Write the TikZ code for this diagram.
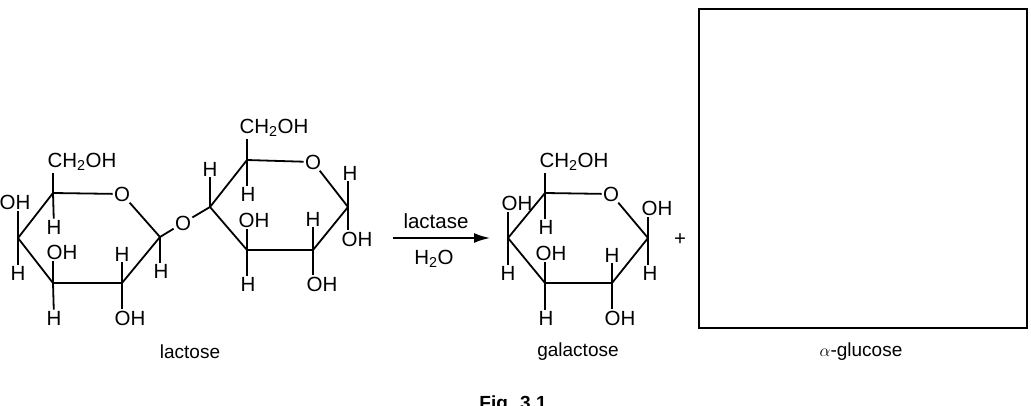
\documentclass[tikz,border=0pt]{standalone}
\usepackage{fontspec}
\setmainfont{Liberation Sans}
\usetikzlibrary{arrows.meta,positioning}

\begin{document}
\begin{tikzpicture}[
        x=1pt, y=-1pt,
        every node/.style={inner sep=1pt, font=\fontsize{20.5}{23}\selectfont},
        every path/.style={line width=1.8pt},
        atom/.style={inner sep=0.5pt},
        caption/.style={font=\fontsize{19}{22}\selectfont}
    ]
    \useasboundingbox (0,0) rectangle (1031,405);

    % Lactose, first ring
    \coordinate (a5) at (53,193);
    \coordinate (a1) at (160,237);
    \coordinate (a2) at (122,283);
    \coordinate (a3) at (53,283);
    \coordinate (a4) at (18,238);
    \node[atom] (aO) at (122,194) {O};
    \node (aCH) at (82,162) {CH\textsubscript{2}OH};
    \node[atom] (a5H) at (54,227) {H};
    \node[atom] (a4OH) at (15,202) {OH};
    \node[atom] (a4H) at (18,273) {H};
    \node[atom] (a3OH) at (62,252) {OH};
    \node[atom] (a3H) at (54,318) {H};
    \node[atom] (a2H) at (122,254) {H};
    \node[atom] (a2OH) at (130,318) {OH};
    \node[atom] (a1H) at (161,271) {H};
    \node[atom] (link) at (183,223) {O};

    % Lactose, second ring
    \coordinate (b4) at (210,207);
    \coordinate (b5) at (247,160);
    \coordinate (b1) at (348,207);
    \coordinate (b2) at (313,250);
    \coordinate (b3) at (247,250);
    \node[atom] (bO) at (313,162) {O};
    \node (bCH) at (274,128) {CH\textsubscript{2}OH};
    \node[atom] (b4H) at (210,169) {H};
    \node[atom] (b5H) at (248,194) {H};
    \node[atom] (b1H) at (350,173) {H};
    \node[atom] (b1OH) at (357,239) {OH};
    \node[atom] (b2H) at (313,219) {H};
    \node[atom] (b2OH) at (322,284) {OH};
    \node[atom] (b3OH) at (254,220) {OH};
    \node[atom] (b3H) at (248,284) {H};

    % Galactose
    \coordinate (g5) at (545,193);
    \coordinate (g1) at (648,238);
    \coordinate (g2) at (612,283);
    \coordinate (g3) at (545,283);
    \coordinate (g4) at (508,238);
    \node[atom] (gO) at (611,194) {O};
    \node (gCH) at (574,162) {CH\textsubscript{2}OH};
    \node[atom] (g5H) at (546,227) {H};
    \node[atom] (g4OH) at (517,203) {OH};
    \node[atom] (g4H) at (508,273) {H};
    \node[atom] (g3OH) at (551,253) {OH};
    \node[atom] (g3H) at (546,318) {H};
    \node[atom] (g2H) at (612,255) {H};
    \node[atom] (g2OH) at (620,318) {OH};
    \node[atom] (g1OH) at (657,208) {OH};
    \node[atom] (g1H) at (650,273) {H};

    % Rings
    \draw (aO) -- (a5) -- (a4) -- (a3) -- (a2) -- (a1) -- (aO);
    \draw (bO) -- (b5) -- (b4) -- (b3) -- (b2) -- (b1) -- (bO);
    \draw (gO) -- (g5) -- (g4) -- (g3) -- (g2) -- (g1) -- (gO);
    \draw (a1) -- (link) -- (b4);

    % Side groups
    \draw (a5) -- (a5 |- aCH.south);
    \draw (a5) -- (a5H);
    \draw (a4) -- (a4 |- a4OH.south);
    \draw (a4) -- (a4H);
    \draw (a3) -- (a3 |- a3OH.south);
    \draw (a3) -- (a3H);
    \draw (a2) -- (a2H);
    \draw (a2) -- (a2 |- a2OH.north);
    \draw (a1) -- (a1 |- a1H.north);
    \draw (b5) -- (b5 |- bCH.south);
    \draw (b5) -- (b5 |- b5H.north);
    \draw (b4) -- (b4H);
    \draw (b1) -- (b1 |- b1H.south);
    \draw (b1) -- (b1 |- b1OH.north);
    \draw (b2) -- (b2H);
    \draw (b2) -- (b2 |- b2OH.north);
    \draw (b3) -- (b3 |- b3OH.south);
    \draw (b3) -- (b3 |- b3H.north);
    \draw (g5) -- (g5 |- gCH.south);
    \draw (g5) -- (g5 |- g5H.north);
    \draw (g4) -- (g4 |- g4OH.south);
    \draw (g4) -- (g4H);
    \draw (g3) -- (g3 |- g3OH.south);
    \draw (g3) -- (g3 |- g3H.north);
    \draw (g2) -- (g2H);
    \draw (g2) -- (g2 |- g2OH.north);
    \draw (g1) -- (g1 |- g1OH.south);
    \draw (g1) -- (g1 |- g1H.north);

    % Reaction arrow
    \coordinate (arrS) at (393,238);
    \coordinate (arrE) at (490,238);
    \draw[-{Latex[length=16pt,width=10pt]}] (arrS) -- (arrE);
    \node (enz) at (436,221) {lactase};
    \node (water) at (434,259) {H\textsubscript{2}O};
    \node (plus) at (680,240) {+};

    % Answer box
    \node[draw, line width=1.6pt, minimum width=328pt, minimum height=319pt, inner sep=0pt] (box) at (863,168.5) {};

    % Captions
    \node[caption] (lacLbl) at (190,352) {lactose};
    \node[caption] (galLbl) at (578,352) {galactose};
    \node[caption] (gluLbl) at (861,352) {$\alpha$-glucose};
    \node[caption, font=\bfseries\fontsize{19}{22}\selectfont] (fig) at (513,405) {Fig. 3.1};
\end{tikzpicture}
\end{document}
